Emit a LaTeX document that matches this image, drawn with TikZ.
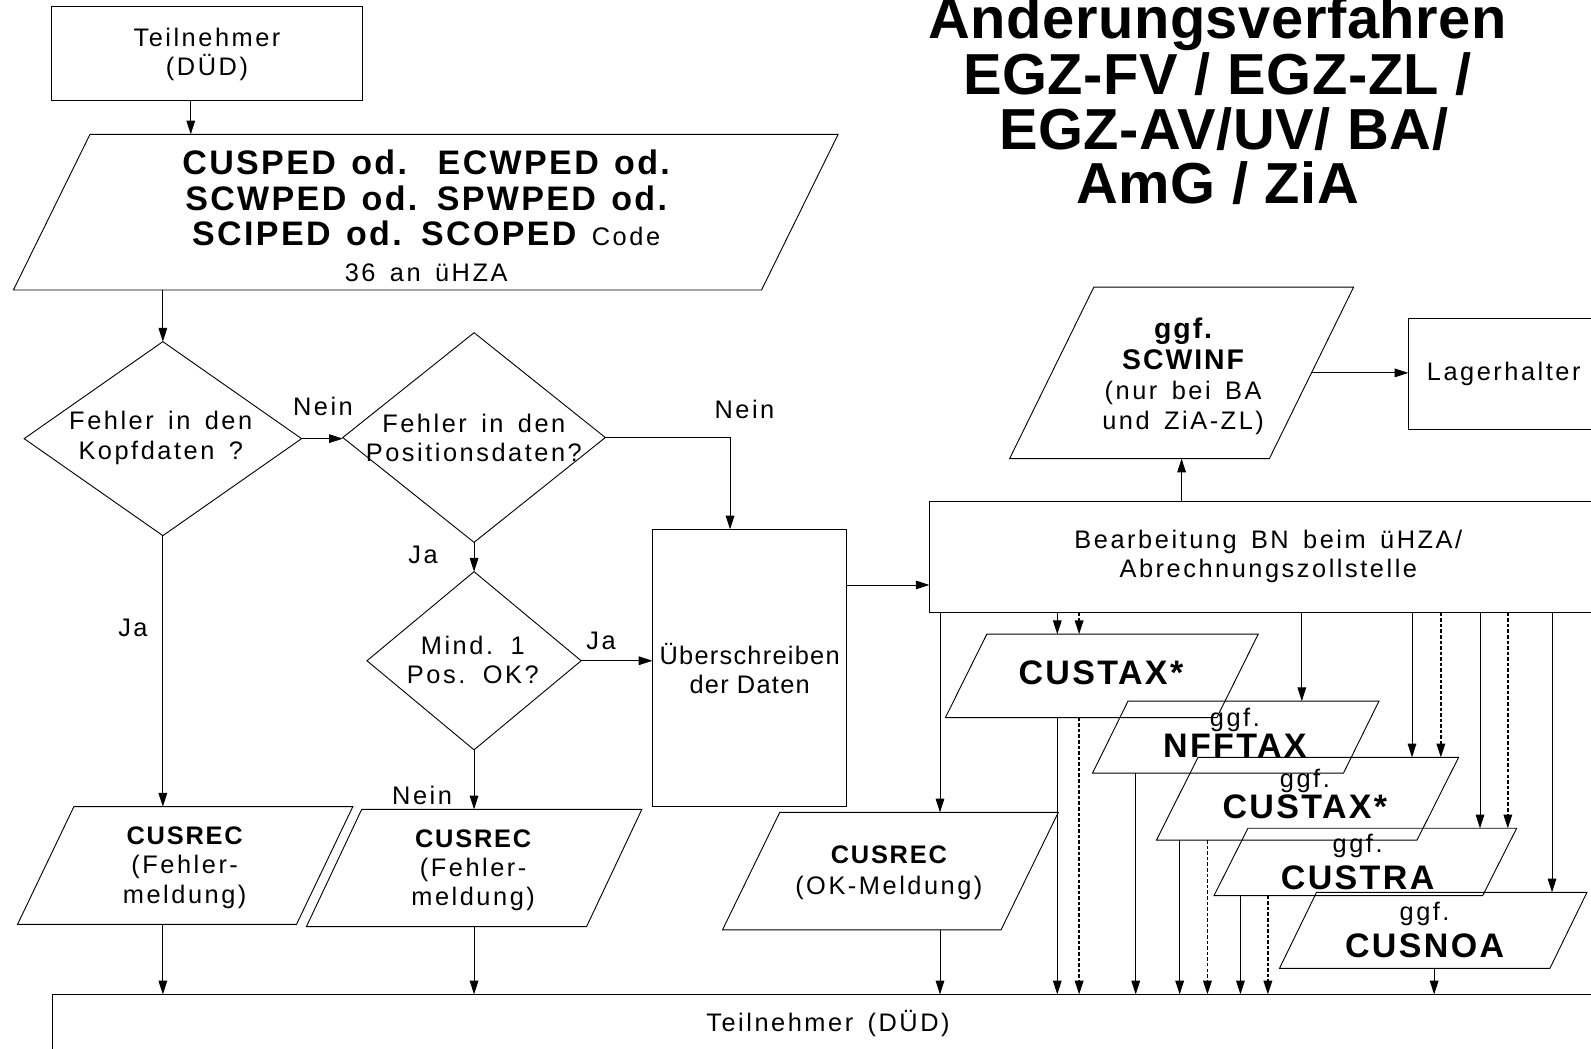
\documentclass[tikz,border=0pt]{standalone}
\usepackage{fontspec}
\setmainfont[LetterSpace=10,WordSpace=1.5]{Liberation Sans}
\newfontfamily\boldf[LetterSpace=7,WordSpace=1.3]{Liberation Sans}
\newfontfamily\titlef[LetterSpace=1]{Liberation Sans}
\newfontfamily\tightf[LetterSpace=5]{Liberation Sans}
\usetikzlibrary{arrows.meta,shapes.geometric,fit,calc}
\newcommand\regsz{\rmfamily\mdseries\fontsize{25}{29}\selectfont}
\newcommand\bigb{\boldf\bfseries\fontsize{33.5}{35}\selectfont}
\newcommand\midb{\boldf\bfseries\fontsize{25}{29}\selectfont}
\newcommand\paral[6]{%
  \node[fit={(#2,#4)(#3,#5)}, inner sep=0pt, outer sep=0pt] (#1) {};
  \draw[shp] ([xshift=#6pt]#1.north west) -- (#1.north east) -- ([xshift=-#6pt]#1.south east) -- (#1.south west) -- cycle;}
\begin{document}
\begin{tikzpicture}[x=1pt,y=-1pt,
  shp/.style={draw, line width=0.9pt},
  reg/.style={font=\regsz},
  box/.style={draw, line width=0.9pt, inner sep=0pt, outer sep=0pt},
  diam/.style={draw, shape=diamond, line width=0.9pt, inner sep=0pt, outer sep=0pt},
  arr/.style={draw, line width=0.9pt, -{Triangle[length=13.5pt,width=8.5pt]}},
  darr/.style={arr, line width=1.4pt, dash pattern=on 3.5pt off 2pt},
  titletxt/.style={font=\titlef\bfseries\fontsize{57}{54}\selectfont, inner sep=0pt, anchor=base}]
\useasboundingbox (0,0) rectangle (1568,1033);

% title
\node[titletxt] (ti1) at (1200,37.8) {Änderungsverfahren};
\node[titletxt] (ti2) at (1200,93) {EGZ-FV / EGZ-ZL /};
\node[titletxt] (ti3) at (1206,147) {EGZ-AV/UV/ BA/};
\node[titletxt] (ti4) at (1200,201) {AmG / ZiA};

% rectangles
\node[box, fit={(51.2,6.6)(357.4,99.2)}] (t0) {};
\node[reg, align=center] (t0t) at (204,53.5) {Teilnehmer\\(DÜD)};
\node[box, fit={(643,521.7)(834.5,794.3)}] (uber) {};
\node[align=center, font=\tightf\fontsize{25}{29}\selectfont] (ubert) at (738.8,659) {Überschreiben\\der Daten};
\node[box, fit={(916,494)(1584,603.8)}] (bear) {};
\node[reg, align=center] (beart) at (1250,548.5) {Bearbeitung BN beim üHZA/\\Abrechnungszollstelle};
\node[box, fit={(1388,313.6)(1576,423)}] (lager) {};
\node[reg] (lagert) at (1482,369) {Lagerhalter};
\node[box, fit={(51.9,980)(1584,1100)}] (t1) {};
\node[reg] (t1t) at (816,1008.5) {Teilnehmer (DÜD)};

% parallelograms
\paral{ped}{13.2}{826}{132.4}{285.8}{75.5}
\node[align=center, font=\bigb] (pedt) at (420,212.7)
  {CUSPED od.\ \ ECWPED od.\\SCWPED od. SPWPED od.\\SCIPED od. SCOPED {\regsz Code}\\{\regsz 36 an üHZA}};
\paral{scw}{995}{1334}{283}{452}{83}
\node[align=center, font=\fontsize{25}{29.7}\selectfont] (scwt) at (1166,371)
  {{\boldf\bfseries\fontsize{28}{29.7}\selectfont ggf.}\\{\boldf\bfseries\fontsize{28}{29.7}\selectfont SCWINF}\\(nur bei BA\\und ZiA-ZL)};
\paral{crec1}{17.3}{347.7}{795}{911}{55.5}
\node[align=center, reg] (crec1t) at (182,855) {{\midb CUSREC}\\(Fehler-\\meldung)};
\paral{crec2}{302}{632.6}{797.6}{913.2}{54.5}
\node[align=center, reg] (crec2t) at (466.3,857.7) {{\midb CUSREC}\\(Fehler-\\meldung)};
\paral{crec3}{712}{1043}{800.6}{916.5}{56.5}
\node[align=center, font=\fontsize{25}{31}\selectfont] (crec3t) at (876,860) {{\midb CUSREC}\\(OK-Meldung)};
\paral{ctax1}{931.7}{1240}{625}{707.3}{40.8}
\node[font=\bigb] (ctax1t) at (1085,663) {CUSTAX*};
\paral{nff}{1076.7}{1359}{691}{762}{35}
\node[align=center, font=\fontsize{25}{31}\selectfont] (nfft) at (1217,722) {ggf.\\{\bigb NFFTAX}};
\paral{ctax2}{1139.7}{1437.5}{746.4}{828}{41}
\node[align=center, font=\fontsize{25}{31}\selectfont] (ctax2t) at (1286,782.5) {ggf.\\{\bigb CUSTAX*}};
\paral{ctra}{1196.4}{1494.7}{816.3}{882.7}{33.5}
\node[align=center, font=\fontsize{25}{36}\selectfont] (ctrat) at (1338,849.5) {ggf.\\{\bigb CUSTRA}};
\paral{cnoa}{1261}{1564}{879.4}{954.3}{36.5}
\node[align=center, font=\fontsize{25}{36}\selectfont] (cnoat) at (1404,916.5) {ggf.\\{\bigb CUSNOA}};

% diamonds
\node[diam, minimum width=273.4pt, minimum height=191.2pt] (d1) at (160.5,432.3) {};
\node[align=center, reg] (d1t) at (158.4,431.5) {Fehler in den\\Kopfdaten ?};
\node[diam, minimum width=258.7pt, minimum height=206.6pt] (d2) at (467.2,431.2) {};
\node[align=center, reg] (d2t) at (467,431.5) {Fehler in den\\Positionsdaten?};
\node[diam, minimum width=211.1pt, minimum height=175.6pt] (d3) at (467.2,651.2) {};
\node[align=center, reg] (d3t) at (466,650.5) {Mind. 1\\Pos. OK?};

% labels
\node[reg] (l1) at (318.3,400.8) {Nein};
\node[reg] (l2) at (733.7,404) {Nein};
\node[reg] (l3) at (417,547) {Ja};
\node[reg] (l4) at (592.3,631.4) {Ja};
\node[reg] (l5) at (131,619.2) {Ja};
\node[reg] (l6) at (416,783.5) {Nein};

% column coordinates
\coordinate (xa) at (188,0);
\coordinate (xn) at (719.5,0);
\coordinate (yu) at (0,576.5);
\coordinate (k1) at (926.4,0);
\coordinate (k2) at (1042,0);
\coordinate (k3) at (1063.5,0);
\coordinate (k4) at (1283,0);
\coordinate (k5) at (1119.3,0);
\coordinate (k6) at (1391.6,0);
\coordinate (k7) at (1420,0);
\coordinate (k8) at (1162.6,0);
\coordinate (k9) at (1190,0);
\coordinate (k10) at (1458.6,0);
\coordinate (k11) at (1486,0);
\coordinate (k12) at (1222.5,0);
\coordinate (k13) at (1249.5,0);
\coordinate (k14) at (1529.6,0);
\coordinate (k15) at (1413.4,0);
\coordinate (scwr) at ($(scw.north east)!0.5!([xshift=-83pt]scw.south east)$);

% connectors left part
\draw[arr] (t0.south -| xa) -- (ped.north -| xa);
\draw[arr] (ped.south -| d1.north) -- (d1.north);
\draw[arr] (d1.east) -- (d1.east -| d2.west);
\draw[arr] (d2.east) -| (uber.north -| xn);
\draw[arr] (d2.south) -- (d3.north);
\draw[arr] (d3.east) -- (d3.east -| uber.west);
\draw[arr] (d3.south) -- (d3.south |- crec2.north);
\draw[arr] (d1.south) -- (d1.south |- crec1.north);
\draw[arr] (crec1.south -| d1.south) -- (t1.north -| d1.south);
\draw[arr] (crec2.south -| d3.south) -- (t1.north -| d3.south);
\draw[arr] (uber.east |- yu) -- (bear.west |- yu);
\draw[arr] (bear.north -| scw.south) -- (scw.south);
\draw[arr] (scwr) -- (scwr -| lager.west);

% connectors right part
\draw[arr] (bear.south -| k1) -- (crec3.north -| k1);
\draw[arr] (crec3.south -| k1) -- (t1.north -| k1);
\draw[arr] (bear.south -| k2) -- (ctax1.north -| k2);
\draw[darr] (bear.south -| k3) -- (ctax1.north -| k3);
\draw[arr] (ctax1.south -| k2) -- (t1.north -| k2);
\draw[darr] (ctax1.south -| k3) -- (t1.north -| k3);
\draw[arr] (bear.south -| k4) -- (nff.north -| k4);
\draw[arr] (nff.south -| k5) -- (t1.north -| k5);
\draw[arr] (bear.south -| k6) -- (ctax2.north -| k6);
\draw[darr] (bear.south -| k7) -- (ctax2.north -| k7);
\draw[arr] (ctax2.south -| k8) -- (t1.north -| k8);
\draw[darr] (ctax2.south -| k9) -- (t1.north -| k9);
\draw[arr] (bear.south -| k10) -- (ctra.north -| k10);
\draw[darr] (bear.south -| k11) -- (ctra.north -| k11);
\draw[arr] (ctra.south -| k12) -- (t1.north -| k12);
\draw[darr] (ctra.south -| k13) -- (t1.north -| k13);
\draw[arr] (bear.south -| k14) -- (cnoa.north -| k14);
\draw[arr] (cnoa.south -| k15) -- (t1.north -| k15);
\end{tikzpicture}
\end{document}
